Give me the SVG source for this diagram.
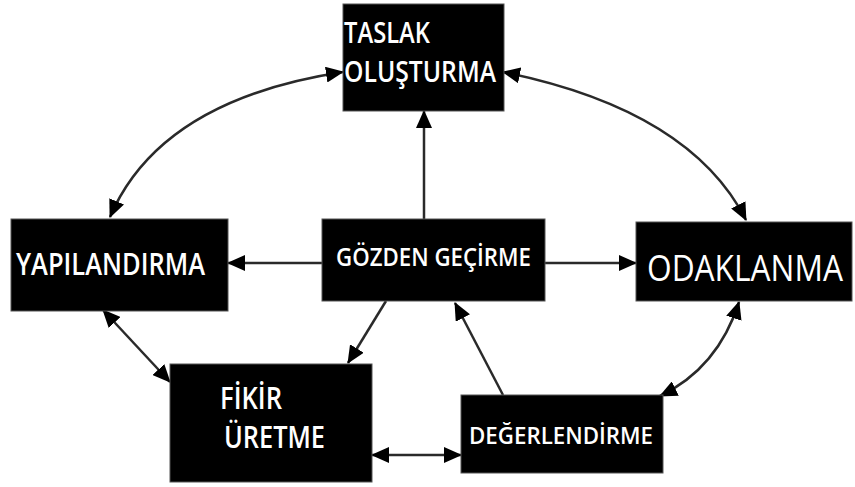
<svg xmlns="http://www.w3.org/2000/svg" width="855" height="487" viewBox="0 0 855 487">
<defs>
<style>
.box{fill:#000;stroke:#555;stroke-width:1}
.t{fill:#fff;font-family:"Open Sans","Noto Sans",sans-serif;font-weight:600}
.c{fill:none;stroke:#2a2a2a;stroke-width:2.5}
</style>
<marker id="ah" viewBox="0 0 18 16" refX="17" refY="8" markerWidth="18" markerHeight="16" markerUnits="userSpaceOnUse" orient="auto-start-reverse">
<path d="M0,0 L18,8 L0,16 z" fill="#000"/>
</marker>
</defs>
<rect width="855" height="487" fill="#fff"/>
<g id="connectors">
<path class="c" d="M110,217 Q160,100 343,72" marker-start="url(#ah)" marker-end="url(#ah)"/>
<path class="c" d="M503,72 Q690,110 746,220" marker-start="url(#ah)" marker-end="url(#ah)"/>
<path class="c" d="M424,219 L424,111" marker-end="url(#ah)"/>
<path class="c" d="M322,263 L228,263" marker-end="url(#ah)"/>
<path class="c" d="M545,263 L636,263" marker-end="url(#ah)"/>
<path class="c" d="M386,301 L348,363" marker-end="url(#ah)"/>
<path class="c" d="M503,395 L455,303" marker-end="url(#ah)"/>
<path class="c" d="M103,310 L170,382" marker-start="url(#ah)" marker-end="url(#ah)"/>
<path class="c" d="M372,455 L461,455" marker-start="url(#ah)" marker-end="url(#ah)"/>
<path class="c" d="M739,302 Q718,368 660,396" marker-start="url(#ah)" marker-end="url(#ah)"/>
</g>
<g id="taslak">
<rect class="box" x="343" y="4" width="161" height="107"/>
<text class="t" x="344" y="43" font-size="29" textLength="86" lengthAdjust="spacingAndGlyphs">TASLAK</text>
<text class="t" x="344" y="82" font-size="29" textLength="152" lengthAdjust="spacingAndGlyphs">OLUŞTURMA</text>
</g>
<g id="yapilandirma">
<rect class="box" x="11" y="219" width="217" height="92"/>
<text class="t" x="16" y="275" font-size="30" textLength="189" lengthAdjust="spacingAndGlyphs">YAPILANDIRMA</text>
</g>
<g id="gozden">
<rect class="box" x="322" y="219" width="223" height="82"/>
<text class="t" x="336" y="266" font-size="25" textLength="195" lengthAdjust="spacingAndGlyphs">GÖZDEN GEÇİRME</text>
</g>
<g id="odaklanma">
<rect class="box" x="636" y="222" width="216" height="79"/>
<text class="t" x="0" y="0" font-size="36" style="font-weight:400" transform="translate(647,281) scale(0.88,1)">ODAKLANMA</text>
</g>
<g id="fikir">
<rect class="box" x="170" y="364" width="202" height="118"/>
<text class="t" x="220" y="409" font-size="30" textLength="62" lengthAdjust="spacingAndGlyphs">FİKİR</text>
<text class="t" x="224" y="448" font-size="30" textLength="101" lengthAdjust="spacingAndGlyphs">ÜRETME</text>
</g>
<g id="degerlendirme">
<rect class="box" x="461" y="395" width="202" height="78"/>
<text class="t" x="469" y="444" font-size="24" textLength="184" lengthAdjust="spacingAndGlyphs">DEĞERLENDİRME</text>
</g>
</svg>
